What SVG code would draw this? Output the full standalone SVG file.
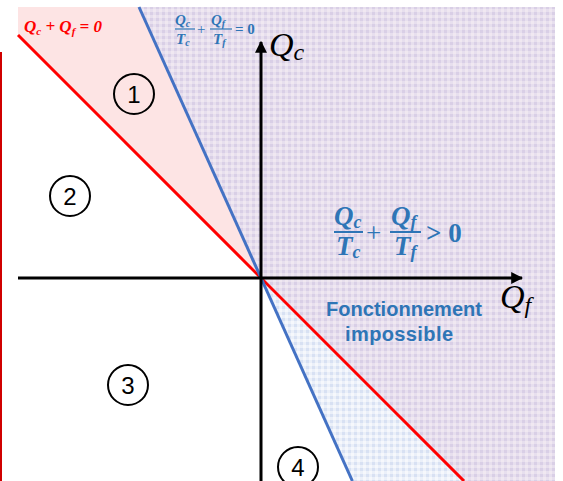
<svg xmlns="http://www.w3.org/2000/svg" width="563" height="481" viewBox="0 0 563 481">
<defs>
<pattern id="purple" width="6" height="6" patternUnits="userSpaceOnUse">
<rect width="6" height="6" fill="#e7dfee"/>
<rect x="0" y="0" width="3" height="3" fill="#d9cfe6"/>
<rect x="3" y="3" width="3" height="3" fill="#f0e8f1"/>
</pattern>
<pattern id="lblue" width="6" height="6" patternUnits="userSpaceOnUse">
<rect width="6" height="6" fill="#ebf0f9"/>
<rect x="0" y="0" width="3" height="3" fill="#d8e1f3"/>
<rect x="3" y="3" width="3" height="3" fill="#f6f8fc"/>
</pattern>
<marker id="arr" viewBox="0 0 10 10" refX="9" refY="5" markerWidth="4" markerHeight="4" orient="auto" markerUnits="strokeWidth">
<path d="M0,0 L10,5 L0,10 z" fill="#000"/>
</marker>
<style>
.math{font-family:"Liberation Serif",serif;font-style:italic;font-weight:bold;fill:#2e75b6}
.num{font-family:"Liberation Sans",sans-serif;font-size:24px;fill:#000;text-anchor:middle}
.circ{fill:none;stroke:#000;stroke-width:2}
.lbl{font-family:"Liberation Sans",sans-serif;font-weight:bold;font-size:20px;fill:#2e75b6;text-anchor:middle}
.ax{font-family:"Liberation Serif",serif;font-style:italic;fill:#000}
</style>
</defs>
<rect width="563" height="481" fill="#fff"/>
<g id="regions">
<polygon points="18,7 139,7 261,278 18,35" fill="#fde4e4"/>
<polygon points="139,7 555,7 555,481 464,481 261,278" fill="url(#purple)"/>
<polygon points="261,278 352,481 464,481" fill="url(#lblue)"/>
</g>
<line x1="1" y1="52" x2="1" y2="481" stroke="#d00000" stroke-width="2"/>
<g id="connectors">
<line id="red-line" x1="18" y1="35" x2="464" y2="481" stroke="#ff0000" stroke-width="3"/>
<line id="blue-line" x1="139" y1="7" x2="352.4" y2="481" stroke="#4472c4" stroke-width="3"/>
<line id="axis-f" x1="18" y1="278" x2="522" y2="278" stroke="#000" stroke-width="3" marker-end="url(#arr)"/>
<line id="axis-c" x1="261" y1="481" x2="261" y2="42" stroke="#000" stroke-width="3" marker-end="url(#arr)"/>
</g>
<g id="label-red">
<text x="24" y="32" font-family="Liberation Serif,serif" font-style="italic" font-weight="bold" font-size="17" fill="#ff0000">Q<tspan font-size="11" dy="3">c</tspan><tspan dy="-3"> + Q</tspan><tspan font-size="11" dy="3">f</tspan><tspan dy="-3"> = 0</tspan></text>
</g>
<g id="label-blue-eq" class="math" font-size="15">
<text x="175" y="25">Q<tspan font-size="10" dy="2">c</tspan></text>
<line x1="175" y1="29" x2="195" y2="29" stroke="#2e75b6" stroke-width="1.2"/>
<text x="176" y="44">T<tspan font-size="10" dy="2">c</tspan></text>
<text x="197" y="34" font-style="normal" font-weight="normal">+</text>
<text x="211" y="25">Q<tspan font-size="10" dy="2">f</tspan></text>
<line x1="210" y1="29" x2="232" y2="29" stroke="#2e75b6" stroke-width="1.2"/>
<text x="213" y="44">T<tspan font-size="10" dy="2">f</tspan></text>
<text x="235" y="34" font-style="normal">= 0</text>
</g>
<g id="label-Qc">
<text class="ax" x="269" y="56" font-size="34">Q<tspan font-size="24" dy="4">c</tspan></text>
</g>
<g id="label-Qf">
<text class="ax" x="500" y="308" font-size="34">Q<tspan font-size="24" dy="5">f</tspan></text>
</g>
<g id="label-ineq" class="math" font-size="27">
<text x="334" y="225">Q<tspan font-size="18" dy="3">c</tspan></text>
<line x1="334" y1="232" x2="363" y2="232" stroke="#2e75b6" stroke-width="2"/>
<text x="336" y="255">T<tspan font-size="18" dy="3">c</tspan></text>
<text x="366" y="242" font-style="normal" font-weight="normal">+</text>
<text x="391" y="225">Q<tspan font-size="18" dy="3">f</tspan></text>
<line x1="390" y1="232" x2="421" y2="232" stroke="#2e75b6" stroke-width="2"/>
<text x="394" y="255">T<tspan font-size="18" dy="3">f</tspan></text>
<text x="426" y="242" font-style="normal">&gt; 0</text>
</g>
<g id="label-impossible">
<text class="lbl" x="404" y="316" textLength="156">Fonctionnement</text>
<text class="lbl" x="399" y="341" textLength="108">impossible</text>
</g>
<g id="region-1"><circle class="circ" cx="134" cy="94" r="20"/><text class="num" x="134" y="103">1</text></g>
<g id="region-2"><circle class="circ" cx="70" cy="196" r="20"/><text class="num" x="70" y="205">2</text></g>
<g id="region-3"><circle class="circ" cx="128" cy="385" r="20"/><text class="num" x="128" y="394">3</text></g>
<g id="region-4"><circle class="circ" cx="298" cy="467" r="20"/><text class="num" x="298" y="476">4</text></g>
</svg>
